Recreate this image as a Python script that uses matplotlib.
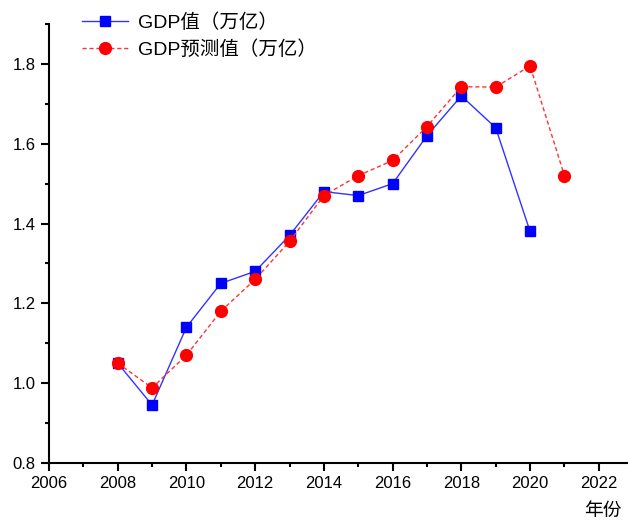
import matplotlib.pyplot as plt
from matplotlib.ticker import MultipleLocator

plt.rcParams['font.family'] = ['Liberation Sans', 'Noto Sans CJK SC']

years_gdp = [2008, 2009, 2010, 2011, 2012, 2013, 2014, 2015, 2016, 2017, 2018, 2019, 2020]
gdp = [1.05, 0.945, 1.14, 1.25, 1.28, 1.37, 1.48, 1.47, 1.50, 1.62, 1.72, 1.64, 1.38]

years_pred = [2008, 2009, 2010, 2011, 2012, 2013, 2014, 2015, 2016, 2017, 2018, 2019, 2020, 2021]
gdp_pred = [1.05, 0.988, 1.07, 1.18, 1.26, 1.355, 1.47, 1.52, 1.558, 1.643, 1.743, 1.742, 1.795, 1.52]

fig = plt.figure(figsize=(6.28, 5.23), dpi=100)
ax = fig.add_axes([0.078, 0.115, 0.922, 0.839])

ax.plot(years_gdp, gdp, color='#3333ff', linewidth=1, marker='s', markersize=7,
        markerfacecolor='blue', markeredgecolor='blue', label='GDP值（万亿）')
ax.plot(years_pred, gdp_pred, color='#ff3333', linewidth=1, linestyle=(0, (3, 2)),
        marker='o', markersize=8.5, markerfacecolor='red', markeredgecolor='red',
        label='GDP预测值（万亿）')

ax.set_xlim(2006, 2022.85)
ax.set_ylim(0.8, 1.9)
ax.xaxis.set_major_locator(MultipleLocator(2))
ax.xaxis.set_minor_locator(MultipleLocator(1))
ax.yaxis.set_minor_locator(MultipleLocator(0.1))
ax.set_yticks([0.8, 1.0, 1.2, 1.4, 1.6, 1.8])
ax.yaxis.set_major_formatter(plt.FuncFormatter(lambda v, p: f'{v:.1f}'))

for s in ['top', 'right']:
    ax.spines[s].set_visible(False)
for s in ['left', 'bottom']:
    ax.spines[s].set_linewidth(1.5)
ax.tick_params(which='major', direction='out', length=6, width=1.5, labelsize=12)
ax.tick_params(which='minor', direction='out', length=3, width=1.5)

ax.legend(loc='upper left', bbox_to_anchor=(0.043, 1.043), frameon=False,
          fontsize=14, handlelength=2.4, handletextpad=0.5, labelspacing=0.45,
          borderaxespad=0)

fig.text(0.99, 0.005, '年份', ha='right', va='bottom', fontsize=13.5)

fig.savefig('out.png', dpi=100)
